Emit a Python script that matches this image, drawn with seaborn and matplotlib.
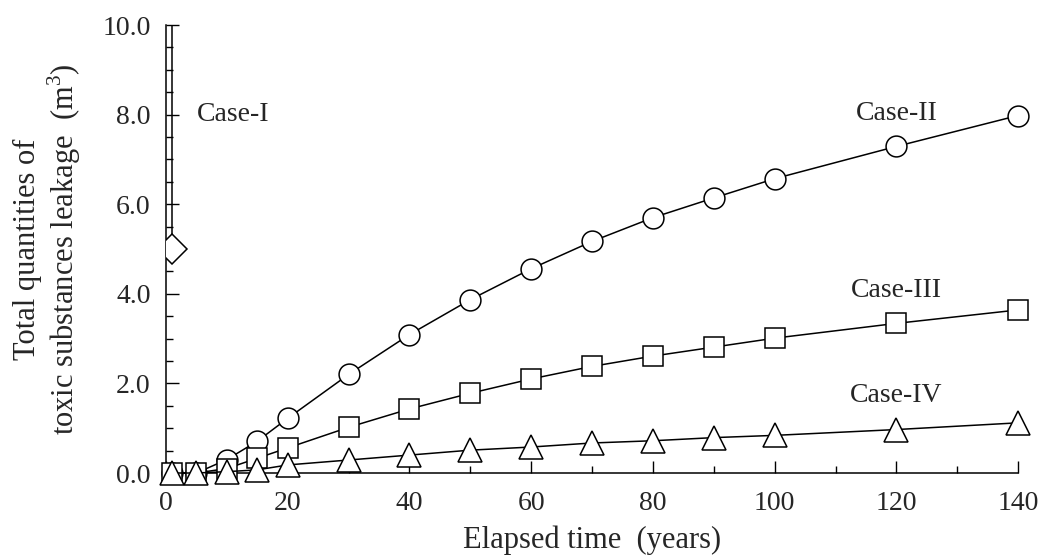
import numpy as np
import pandas as pd
import matplotlib
matplotlib.use("Agg")
import matplotlib.pyplot as plt
from matplotlib.ticker import MultipleLocator, FormatStrFormatter
import seaborn as sns

# ---- data ----
years = [1, 5, 10, 15, 20, 30, 40, 50, 60, 70, 80, 90, 100, 120, 140]
case2 = [0.0, 0.0, 0.30, 0.71, 1.22, 2.20, 3.09, 3.87, 4.56, 5.17, 5.70, 6.14, 6.57, 7.29, 7.98]
case3 = [0.0, 0.0, 0.10, 0.33, 0.56, 1.02, 1.43, 1.78, 2.10, 2.38, 2.61, 2.81, 3.01, 3.34, 3.64]
case4 = [0.0, 0.0, 0.03, 0.07, 0.18, 0.29, 0.40, 0.51, 0.58, 0.67, 0.72, 0.79, 0.84, 0.97, 1.12]
case1_x = [1, 1]
case1_y = [5.0, 12.0]

case_labels = ["Case-I", "Case-II", "Case-III", "Case-IV"]
label_x = [5, 120, 120, 120]
label_y = [8.0, 8.03, 4.07, 1.73]
label_ha = ["left", "center", "center", "center"]

sns.set_style("ticks")
plt.rcParams['font.family'] = ['Liberation Serif', 'DejaVu Serif']
plt.rcParams['mathtext.fontset'] = 'custom'
plt.rcParams['mathtext.rm'] = 'Liberation Serif'

fig = plt.figure(figsize=(10.4, 5.57), dpi=100)
ax = fig.add_axes([0.1596, 0.1508, 0.8194, 0.8043])

common = dict(color="black", linewidth=1.1, markerfacecolor="white",
              markeredgecolor="black", markeredgewidth=1.1, clip_on=False)

df2 = pd.DataFrame({"t": years, "v": case2})
df3 = pd.DataFrame({"t": years, "v": case3})
df4 = pd.DataFrame({"t": years, "v": case4})
df1 = pd.DataFrame({"t": case1_x, "v": case1_y})

sns.lineplot(data=df1, x="t", y="v", ax=ax, marker="D", markersize=15,
             estimator=None, sort=False, zorder=3, color="black", linewidth=1.1,
             markerfacecolor="white", markeredgecolor="black", markeredgewidth=1.1)
sns.lineplot(data=df2, x="t", y="v", ax=ax, marker="o", markersize=15,
             estimator=None, zorder=3, **common)
sns.lineplot(data=df3, x="t", y="v", ax=ax, marker="s", markersize=14.5,
             estimator=None, zorder=4, **common)
sns.lineplot(data=df4, x="t", y="v", ax=ax, marker="^", markersize=17,
             estimator=None, zorder=5, **common)

ax.set_xlim(0, 140)
ax.set_ylim(0, 10)
ax.xaxis.set_major_locator(MultipleLocator(20))
ax.xaxis.set_minor_locator(MultipleLocator(10))
ax.yaxis.set_major_locator(MultipleLocator(2))
ax.yaxis.set_minor_locator(MultipleLocator(0.5))
ax.yaxis.set_major_formatter(FormatStrFormatter("%.1f"))

ax.tick_params(axis="both", which="major", direction="in", length=9, width=1,
               labelsize=20, color="black")
ax.tick_params(axis="both", which="minor", direction="in", length=5, width=1, color="black")
ax.tick_params(axis="x", which="major", pad=13)
ax.tick_params(axis="y", which="major", pad=11)

for s in ["top", "right"]:
    ax.spines[s].set_visible(False)
for s in ["left", "bottom"]:
    ax.spines[s].set_linewidth(1.1)
    ax.spines[s].set_color("black")

ax.set_xlabel("Elapsed time  (years)", fontsize=22, labelpad=7)
ax.set_ylabel("Total quantities of\ntoxic substances leakage  (m$^3$)", fontsize=22,
              labelpad=14, linespacing=1.12)

for lab, lx, ly, ha in zip(case_labels, label_x, label_y, label_ha):
    ax.text(lx, ly, lab, fontsize=20, ha=ha, va="center")

fig.savefig("out.png", dpi=100, facecolor="white")
